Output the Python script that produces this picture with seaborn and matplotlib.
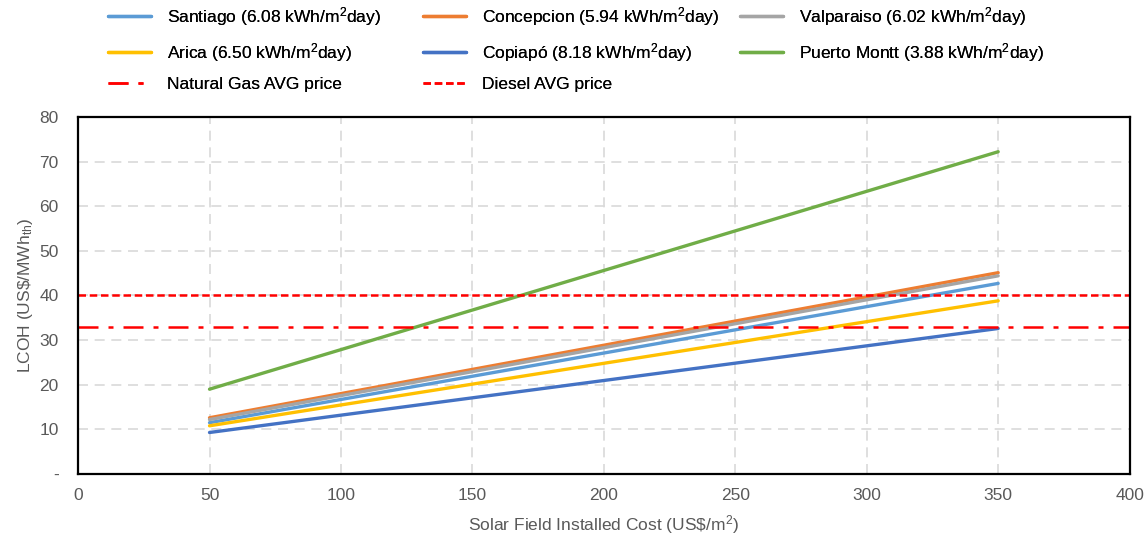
import matplotlib
matplotlib.use("Agg")
import matplotlib.pyplot as plt
import seaborn as sns
import pandas as pd

# Data
cost = [50, 350]
santiago = [11.5, 42.7]
concepcion = [12.6, 45.1]
valparaiso = [12.2, 44.4]
arica = [10.8, 38.8]
copiapo = [9.3, 32.6]
puerto_montt = [19.0, 72.2]
gas_price = 33.0
diesel_price = 40.0
price_x = [0, 400]

series_names = [
    r"Santiago (6.08 kWh/m$^2$day)",
    r"Concepcion (5.94 kWh/m$^2$day)",
    r"Valparaiso (6.02 kWh/m$^2$day)",
    r"Arica (6.50 kWh/m$^2$day)",
    r"Copiapó (8.18 kWh/m$^2$day)",
    r"Puerto Montt (3.88 kWh/m$^2$day)",
]
series_vals = [santiago, concepcion, valparaiso, arica, copiapo, puerto_montt]
colors = ["#5B9BD5", "#ED7D31", "#A5A5A5", "#FFC000", "#4472C4", "#70AD47"]

sns.set_theme(style="white")
plt.rcParams["font.family"] = ["Liberation Sans", "DejaVu Sans"]
plt.rcParams["mathtext.fontset"] = "custom"
plt.rcParams["mathtext.rm"] = "Liberation Sans"
plt.rcParams["mathtext.it"] = "Liberation Sans"

fig = plt.figure(figsize=(11.48, 5.37), dpi=100)
ax = fig.add_axes([0.068, 0.1173, 0.916, 0.665])

for name, vals, c in zip(series_names, series_vals, colors):
    df = pd.DataFrame({"x": cost, "y": vals})
    sns.lineplot(data=df, x="x", y="y", color=c, linewidth=2.4, ax=ax, label=name)

df_gas = pd.DataFrame({"x": price_x, "y": [gas_price, gas_price]})
df_dsl = pd.DataFrame({"x": price_x, "y": [diesel_price, diesel_price]})
sns.lineplot(data=df_gas, x="x", y="y", color="#FF0000", linewidth=1.8, ax=ax,
             label="Natural Gas AVG price", linestyle=(0, (8, 4, 2, 4)))
sns.lineplot(data=df_dsl, x="x", y="y", color="#FF0000", linewidth=1.8, ax=ax,
             label="Diesel AVG price", linestyle=(0, (3, 1.5)))

ax.set_xlim(0, 400)
ax.set_ylim(0, 80)
ax.set_xticks(range(0, 401, 50))
ax.set_yticks(range(0, 81, 10))
ax.set_yticklabels(["-"] + [str(v) for v in range(10, 81, 10)])
ax.grid(True, color="#D9D9D9", linestyle=(0, (6, 4)), linewidth=1.2)
for s in ax.spines.values():
    s.set_color("black")
    s.set_linewidth(1.6)
ax.tick_params(axis="both", colors="#595959", labelsize=12.5, length=0)
ax.tick_params(axis="y", pad=14)
ax.tick_params(axis="x", pad=10)
ax.set_xlabel(r"Solar Field Installed Cost (US\$/m$^2$)", color="#595959", fontsize=12.5, labelpad=7)
ax.set_ylabel(r"LCOH (US\$/MWh$_{\rm th}$)", color="#595959", fontsize=12.5, labelpad=3)

h, l = ax.get_legend_handles_labels()
ax.get_legend().remove()
columns = [[0, 3, 6], [1, 4, 7], [2, 5]]
col_x = [108, 423, 740]
for idxs, xpix in zip(columns, col_x):
    leg = fig.legend([h[i] for i in idxs], [l[i] for i in idxs], ncol=1,
                     loc="upper left", bbox_to_anchor=(xpix / 1148, 1 - 5 / 537),
                     frameon=False, borderpad=0, borderaxespad=0,
                     fontsize=12.5, handlelength=2.5, handletextpad=0.9,
                     labelspacing=0.75, labelcolor="#000000")
    fig.add_artist(leg)

fig.savefig("out.png", dpi=100)
